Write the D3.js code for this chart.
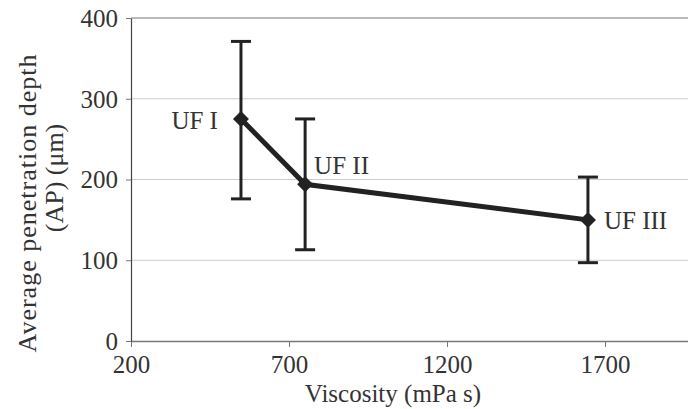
<!DOCTYPE html>
<html>
<head>
<meta charset="utf-8">
<script src="https://cdn.jsdelivr.net/npm/d3@7"></script>
<style>
  body { margin: 0; background: #fff; }
  text { font-family: "Liberation Serif", "DejaVu Serif", serif; fill: #333; }
</style>
</head>
<body>
<svg id="chart" width="688" height="409"></svg>
<script>
// data
const labels = ["UF I", "UF II", "UF III"];
const viscosity = [548, 751, 1646];
const depth = [275, 194, 150];
const upper = [371, 275, 203];
const lower = [176, 113, 97];
const xTicks = [200, 700, 1200, 1700];
const yTicks = [0, 100, 200, 300, 400];

let svg = d3.select("#chart");

let x = d3.scaleLinear()
    .domain([200, 2200])
    .range([131, 763]);

let y = d3.scaleLinear()
    .domain([0, 400])
    .range([341, 18]);

// gridlines
svg.append("g")
    .selectAll("line")
    .data(yTicks.filter(d => d > 0))
    .join("line")
    .attr("x1", x(200))
    .attr("x2", 688)
    .attr("y1", d => y(d))
    .attr("y2", d => y(d))
    .style("stroke", d => d == 400 ? "#777" : "#ccc")
    .style("stroke-width", "1px");

let xAxis = svg.append("g")
    .attr("transform", `translate(0,${y(0)})`)
    .call(d3.axisBottom(x).tickValues(xTicks).tickFormat(d3.format("d"))
        .tickSize(6).tickSizeOuter(0).tickPadding(8));
xAxis.select(".domain").style("stroke", "#777").style("stroke-width", "1.5px");
xAxis.selectAll(".tick line").style("stroke", "#777");
xAxis.selectAll("text").style("font-size", "25px").style("fill", "#333");

let yAxis = svg.append("g")
    .attr("transform", `translate(${x(200)},0)`)
    .call(d3.axisLeft(y).tickValues(yTicks).tickSize(5).tickSizeOuter(0).tickPadding(8));
yAxis.select(".domain").style("stroke", "#444").style("stroke-width", "1.2px");
yAxis.selectAll(".tick line").style("stroke", "#777");
yAxis.selectAll("text").style("font-size", "25px").style("fill", "#333").attr("dy", "0.33em");

// axis titles
svg.append("text")
    .attr("x", 393)
    .attr("y", 402)
    .attr("text-anchor", "middle")
    .style("font-size", "25px")
    .text("Viscosity (mPa s)");

let yTitle = svg.append("text")
    .attr("transform", "rotate(-90)")
    .attr("text-anchor", "middle")
    .style("font-size", "26px");
yTitle.append("tspan").attr("x", -203).attr("y", 36)
    .style("letter-spacing", "1px")
    .text("Average penetration depth");
yTitle.append("tspan").attr("x", -178).attr("y", 63).text("(AP) (\u03bcm)");

const pts = labels.map((l, i) => ({label: l, v: viscosity[i], d: depth[i], hi: upper[i], lo: lower[i]}));

// error bars
let err = svg.append("g").selectAll("g").data(pts).join("g");
err.append("line")
    .attr("x1", d => x(d.v)).attr("x2", d => x(d.v))
    .attr("y1", d => y(d.hi)).attr("y2", d => y(d.lo))
    .style("stroke", "#222").style("stroke-width", "3px");
err.selectAll(".cap")
    .data(d => [[d.v, d.hi], [d.v, d.lo]])
    .join("line")
    .attr("x1", d => x(d[0]) - 10).attr("x2", d => x(d[0]) + 10)
    .attr("y1", d => y(d[1])).attr("y2", d => y(d[1]))
    .style("stroke", "#222").style("stroke-width", "3px");

// main line
svg.append("path")
    .datum(pts)
    .attr("d", d3.line().x(d => x(d.v)).y(d => y(d.d)))
    .style("fill", "none")
    .style("stroke", "#222")
    .style("stroke-width", "5px");

// diamond markers
svg.append("g").selectAll("path")
    .data(pts)
    .join("path")
    .attr("transform", d => `translate(${x(d.v)},${y(d.d)})`)
    .attr("d", "M0,-8L8,0L0,8L-8,0Z")
    .style("fill", "#222");

// point labels
const labelPos = [
    {dx: -23, dy: 10, anchor: "end"},
    {dx: 9, dy: -10, anchor: "start"},
    {dx: 16, dy: 9, anchor: "start"}
];
svg.append("g").selectAll("text")
    .data(pts)
    .join("text")
    .attr("x", (d, i) => x(d.v) + labelPos[i].dx)
    .attr("y", (d, i) => y(d.d) + labelPos[i].dy)
    .attr("text-anchor", (d, i) => labelPos[i].anchor)
    .style("font-size", "25px")
    .text(d => d.label);
</script>
</body>
</html>
